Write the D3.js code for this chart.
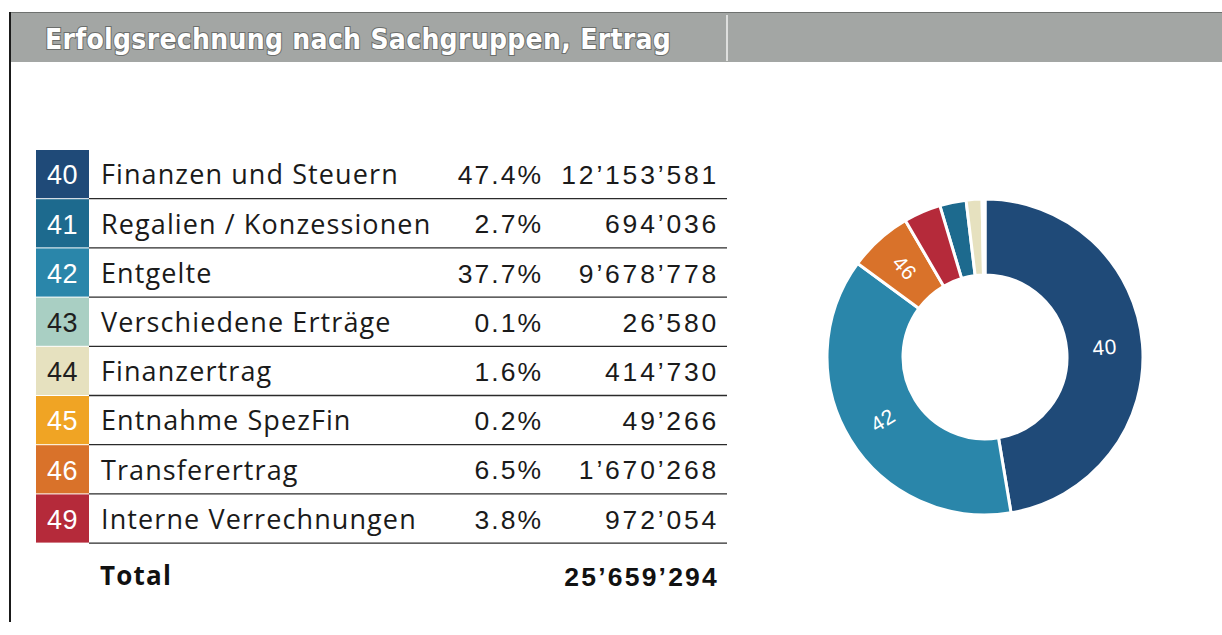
<!DOCTYPE html>
<html>
<head>
<meta charset="utf-8">
<script src="https://cdn.jsdelivr.net/npm/d3@7"></script>
<style>
  body { margin: 0; background: #fff; }
  svg { display: block; }
</style>
</head>
<body>
<svg width="1222" height="635"></svg>
<script>
// data
var title = "Erfolgsrechnung nach Sachgruppen, Ertrag";
var codes = ["40", "41", "42", "43", "44", "45", "46", "49"];
var names = ["Finanzen und Steuern", "Regalien / Konzessionen", "Entgelte", "Verschiedene Erträge",
             "Finanzertrag", "Entnahme SpezFin", "Transferertrag", "Interne Verrechnungen"];
var shares = [47.4, 2.7, 37.7, 0.1, 1.6, 0.2, 6.5, 3.8];
var amounts = [12153581, 694036, 9678778, 26580, 414730, 49266, 1670268, 972054];
var totalLabel = "Total";
var total = 25659294;
var donutLabels = ["40", "42", "46"];

var palette = ["#1f4a78", "#1d6a8e", "#2a86aa", "#a9cfc3", "#e6e1bf", "#f0a424", "#d9722a", "#b52a3a"];
var darkText = ["43", "44"];

var svg = d3.select('svg');

var locale = d3.formatLocale({ decimal: ".", thousands: "\u2019", grouping: [3], currency: ["", ""] });
var fmt = locale.format(",d");

var color = d3.scaleOrdinal().domain(codes).range(palette);

var rows = codes.map(function(c, i) {
    return { code: c, name: names[i], share: shares[i], amount: amounts[i] };
});

// header bar
svg.append('rect')
    .attr('x', 9).attr('y', 12)
    .attr('width', 1213).attr('height', 50)
    .attr('fill', '#a3a6a4');
svg.append('line')
    .attr('x1', 9).attr('x2', 1222).attr('y1', 12.5).attr('y2', 12.5)
    .attr('stroke', '#6e716f').attr('stroke-width', 1);
svg.append('line')
    .attr('x1', 727).attr('x2', 727).attr('y1', 15).attr('y2', 61)
    .attr('stroke', '#f2f2f2').attr('stroke-width', 1.5);
svg.append('line')
    .attr('x1', 10).attr('x2', 10).attr('y1', 12).attr('y2', 622)
    .attr('stroke', '#1a1a1a').attr('stroke-width', 2);

svg.append('text')
    .attr('x', 45).attr('y', 49)
    .text(title)
    .attr('font-family', '"DejaVu Sans Condensed", "DejaVu Sans", sans-serif')
    .attr('font-stretch', 'condensed')
    .attr('font-weight', 'bold')
    .attr('font-size', 28)
    .attr('letter-spacing', 0.3)
    .attr('fill', '#ffffff')
    .attr('stroke', '#6b6e6c')
    .attr('stroke-width', 2)
    .attr('paint-order', 'stroke');

// table
var y = d3.scaleBand()
    .domain(codes)
    .range([150, 150 + 8 * 49.2])
    .padding(0);

var labelFont = '"Open Sans", "Liberation Sans", sans-serif';
var numFont = '"Liberation Sans", Arial, sans-serif';

var row = svg.selectAll('g.row')
    .data(rows)
    .enter()
    .append('g')
    .attr('class', 'row')
    .attr('transform', function(d) { return 'translate(0,' + y(d.code) + ')'; });

row.append('rect')
    .attr('x', 36).attr('y', 0)
    .attr('width', 53)
    .attr('height', y.bandwidth() - 1)
    .attr('fill', function(d) { return color(d.code); });

row.append('line')
    .attr('x1', 89).attr('x2', 727)
    .attr('y1', y.bandwidth() - 0.5).attr('y2', y.bandwidth() - 0.5)
    .attr('stroke', '#2b2b2b').attr('stroke-width', 1.3);

row.append('text')
    .attr('x', 62.5).attr('y', y.bandwidth() / 2)
    .attr('dy', '0.36em')
    .attr('text-anchor', 'middle')
    .text(function(d) { return d.code; })
    .attr('font-family', numFont)
    .attr('font-size', 27)
    .attr('letter-spacing', 0.5)
    .attr('fill', function(d) { return darkText.indexOf(d.code) >= 0 ? '#1e1e1e' : '#ffffff'; });

row.append('text')
    .attr('x', 101).attr('y', y.bandwidth() / 2)
    .attr('dy', '0.36em')
    .text(function(d) { return d.name; })
    .attr('font-family', labelFont)
    .attr('font-size', 27)
    .attr('letter-spacing', 1.1)
    .attr('fill', '#1a1a1a');

row.append('text')
    .attr('x', 543).attr('y', y.bandwidth() / 2)
    .attr('dy', '0.36em')
    .attr('text-anchor', 'end')
    .text(function(d) { return d.share.toFixed(1) + '%'; })
    .attr('font-family', numFont)
    .attr('font-size', 26.5)
    .attr('letter-spacing', 2)
    .attr('fill', '#1a1a1a');

row.append('text')
    .attr('x', 719).attr('y', y.bandwidth() / 2)
    .attr('dy', '0.36em')
    .attr('text-anchor', 'end')
    .text(function(d) { return fmt(d.amount); })
    .attr('font-family', numFont)
    .attr('font-size', 26.5)
    .attr('letter-spacing', 2.8)
    .attr('fill', '#1a1a1a');

// total row
svg.append('text')
    .attr('x', 100).attr('y', 576)
    .attr('dy', '0.36em')
    .text(totalLabel)
    .attr('font-family', labelFont)
    .attr('font-weight', 'bold')
    .attr('font-size', 26)
    .attr('letter-spacing', 1.2)
    .attr('fill', '#111');

svg.append('text')
    .attr('x', 719).attr('y', 576)
    .attr('dy', '0.36em')
    .attr('text-anchor', 'end')
    .text(fmt(total))
    .attr('font-family', numFont)
    .attr('font-weight', 'bold')
    .attr('font-size', 26.5)
    .attr('letter-spacing', 2.2)
    .attr('fill', '#111');

// donut
var cx = 985, cy = 357;
var outerR = 158, innerR = 82;

var pie = d3.pie()
    .value(function(d) { return d.amount; })
    .sort(function(a, b) { return b.amount - a.amount; });

var arc = d3.arc()
    .innerRadius(innerR)
    .outerRadius(outerR);

var arcs = pie(rows);

var donut = svg.append('g')
    .attr('transform', 'translate(' + cx + ',' + cy + ')');

donut.selectAll('path')
    .data(arcs)
    .enter()
    .append('path')
    .attr('d', arc)
    .attr('fill', function(d) { return color(d.data.code); })
    .attr('stroke', '#ffffff')
    .attr('stroke-width', 3);

donut.selectAll('text')
    .data(arcs.filter(function(d) { return donutLabels.indexOf(d.data.code) >= 0; }))
    .enter()
    .append('text')
    .attr('transform', function(d) {
        var c = arc.centroid(d);
        var a = (d.startAngle + d.endAngle) / 2 * 180 / Math.PI - 90;
        if (a > 90) a -= 180;
        return 'translate(' + c[0] + ',' + c[1] + ') rotate(' + a + ')';
    })
    .attr('text-anchor', 'middle')
    .attr('dy', '0.36em')
    .text(function(d) { return d.data.code; })
    .attr('font-family', numFont)
    .attr('font-size', 21)
    .attr('letter-spacing', 0.5)
    .attr('fill', '#ffffff');
</script>
</body>
</html>
